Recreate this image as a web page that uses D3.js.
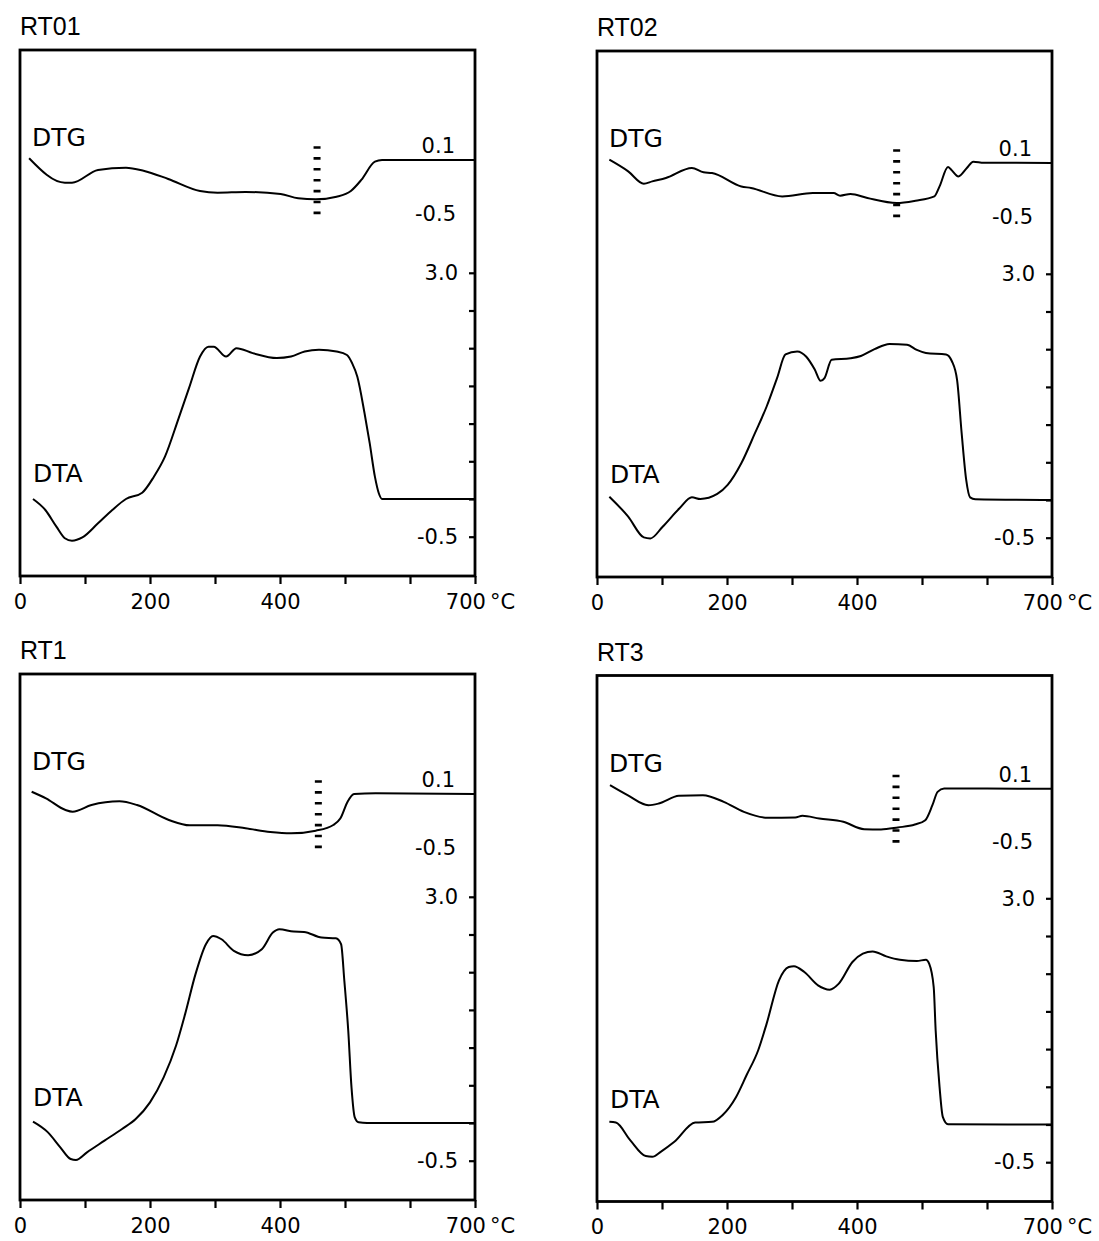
<!DOCTYPE html>
<html><head><meta charset="utf-8">
<script src="https://cdn.jsdelivr.net/npm/d3@7/dist/d3.min.js"></script>
<style>body{margin:0;background:#fff}</style>
</head><body>
<svg id="c" width="1099" height="1241"></svg>
<script>
// ---------- data ----------
const panelNames = ["RT01", "RT02", "RT1", "RT3"];
const xTicks = [0, 100, 200, 300, 400, 500, 600, 700];
const xTickLabels = {0: "0", 200: "200", 400: "400", 700: "700\u2009°C"};
const dtaTicks = [-0.5, 0, 0.5, 1.0, 1.5, 2.0, 2.5, 3.0];
const dtaTickLabels = {"3": "3.0", "-0.5": "-0.5"};
const dtgTickLabels = [0.1, -0.5];
const markerT = [457, 461, 459, 460];

const RT01_DTG = [[14,0.12],[69,-0.157],[80,-0.157],[120,-0.013],[163,0.013],[190,-0.021],[228,-0.115],[277,-0.251],[304,-0.27],[347,-0.262],[401,-0.285],[428,-0.334],[455,-0.345],[487,-0.315],[509,-0.251],[525,-0.126],[546,0.081],[557,0.1],[700,0.1]];
const RT01_DTA = [[20,0],[39,-0.146],[56,-0.367],[69,-0.52],[80,-0.553],[96,-0.51],[120,-0.323],[142,-0.146],[163,0],[188,0.084],[206,0.296],[223,0.562],[244,1.07],[260,1.47],[277,1.89],[290,2.02],[298,2.02],[317,1.89],[333,2.0],[358,1.935],[395,1.87],[417,1.89],[438,1.956],[460,1.98],[487,1.956],[503,1.91],[511,1.8],[519,1.62],[530,1.14],[538,0.74],[546,0.296],[552,0.076],[557,0],[700,0]];

const RT02_DTG = [[19,0.137],[48,0.005],[72,-0.134],[85,-0.108],[106,-0.07],[146,0.043],[164,-0.006],[177,-0.013],[222,-0.165],[237,-0.183],[285,-0.278],[332,-0.24],[364,-0.24],[374,-0.27],[390,-0.251],[416,-0.296],[461,-0.353],[490,-0.327],[519,-0.278],[527,-0.165],[540,0.055],[545,0.024],[556,-0.052],[569,0.043],[579,0.115],[595,0.103],[700,0.1]];
const RT02_DTA = [[19,0.044],[48,-0.22],[72,-0.496],[82,-0.51],[101,-0.354],[127,-0.11],[146,0.035],[159,0.013],[185,0.08],[201,0.2],[222,0.487],[243,0.886],[261,1.24],[277,1.616],[290,1.93],[308,1.97],[322,1.9],[335,1.73],[344,1.58],[350,1.616],[361,1.86],[390,1.88],[406,1.91],[427,2.0],[450,2.07],[477,2.06],[492,1.99],[506,1.95],[537,1.93],[546,1.84],[554,1.59],[561,0.886],[568,0.266],[574,0.035],[582,0.01],[700,0]];

const RT1_DTG = [[18,0.126],[40,0.051],[70,-0.081],[81,-0.1],[110,-0.025],[153,0.017],[180,-0.025],[229,-0.194],[261,-0.254],[304,-0.254],[347,-0.288],[385,-0.33],[417,-0.345],[455,-0.315],[482,-0.251],[493,-0.175],[504,0.013],[514,0.1],[547,0.108],[700,0.1]];
const RT1_DTA = [[20,0.018],[43,-0.124],[62,-0.322],[78,-0.477],[86,-0.49],[103,-0.389],[130,-0.234],[157,-0.079],[178,0.053],[200,0.274],[221,0.605],[240,1.024],[254,1.444],[270,1.974],[286,2.371],[297,2.48],[310,2.437],[329,2.283],[351,2.225],[372,2.305],[389,2.525],[399,2.57],[421,2.539],[437,2.534],[464,2.459],[486,2.45],[494,2.371],[499,1.885],[505,1.223],[510,0.472],[515,0.075],[521,0.009],[534,0],[700,0]];

const RT3_DTG = [[20,0.138],[47,0.025],[79,-0.089],[95,-0.07],[126,0.017],[163,0.025],[195,-0.051],[226,-0.164],[263,-0.232],[305,-0.228],[316,-0.209],[342,-0.24],[379,-0.277],[411,-0.361],[437,-0.364],[463,-0.341],[489,-0.308],[505,-0.259],[516,-0.089],[524,0.062],[534,0.1],[700,0.097]];
const RT3_DTA = [[19,0.035],[29,0.026],[51,-0.207],[75,-0.419],[85,-0.428],[98,-0.362],[119,-0.23],[151,0.026],[177,0.035],[193,0.124],[214,0.366],[230,0.653],[248,0.985],[261,1.338],[280,1.912],[295,2.088],[303,2.1],[319,2.022],[340,1.845],[358,1.788],[372,1.868],[393,2.155],[409,2.265],[424,2.296],[445,2.23],[466,2.185],[492,2.168],[506,2.185],[511,2.132],[518,1.823],[521,1.25],[527,0.499],[532,0.102],[540,0.004],[700,0]];

const dtgSeries = [RT01_DTG, RT02_DTG, RT1_DTG, RT3_DTG];
const dtaSeries = [RT01_DTA, RT02_DTA, RT1_DTA, RT3_DTA];

// ---------- layout ----------
const W = 455, H = 526;
const layout = [
  {left: 20, top: 50, dtgOff: 110},
  {left: 597, top: 51, dtgOff: 112},
  {left: 20, top: 674, dtgOff: 120},
  {left: 597, top: 675.5, dtgOff: 113}
];
const numFont = "'DejaVu Sans', Verdana, sans-serif";

const svg = d3.select("#c");

layout.forEach((p, i) => {
  const g = svg.append("g").attr("transform", `translate(${p.left},${p.top})`);
  const x = d3.scaleLinear().domain([0, 700]).range([0, W]);
  const yA = d3.scaleLinear().domain([0, 3]).range([449, 449 - 3 * 75.4]);
  const yG = d3.scaleLinear().domain([0.1, -0.5]).range([p.dtgOff, p.dtgOff + 53]);

  // title
  g.append("text").attr("x", 0).attr("y", -15)
    .attr("font-family", "'Liberation Sans', Arial, sans-serif").attr("font-size", 25)
    .text(panelNames[i]);

  // frame
  g.append("rect").attr("width", W).attr("height", H)
    .attr("fill", "none").attr("stroke", "#000").attr("stroke-width", 2.8);

  // x axis
  const xa = g.append("g").attr("transform", `translate(0,${H})`)
    .call(d3.axisBottom(x).tickValues(xTicks).tickSize(8).tickPadding(10)
      .tickFormat(d => xTickLabels[d] || ""));
  xa.select(".domain").remove();
  xa.selectAll("line").attr("stroke-width", 2.2);
  xa.selectAll("text").attr("font-family", numFont).attr("font-size", 21).attr("fill", "#000")
    .attr("dx", d => d === 700 ? 5 : 0);

  // right DTA axis (ticks inward)
  const ya = g.append("g").attr("transform", `translate(${W},0)`)
    .call(d3.axisLeft(yA).tickValues(dtaTicks).tickSize(6).tickPadding(11)
      .tickFormat(d => dtaTickLabels[String(d)] || ""));
  ya.select(".domain").remove();
  ya.selectAll("line").attr("stroke-width", 2.2);
  ya.selectAll("text").attr("font-family", numFont).attr("font-size", 21).attr("fill", "#000");

  // DTG value labels
  g.append("text").attr("x", W - 20).attr("y", yG(dtgTickLabels[0]) - 7)
    .attr("text-anchor", "end").attr("font-family", numFont).attr("font-size", 21)
    .text(dtgTickLabels[0].toFixed(1));
  g.append("text").attr("x", W - 19).attr("y", yG(dtgTickLabels[1])).attr("dy", "0.36em")
    .attr("text-anchor", "end").attr("font-family", numFont).attr("font-size", 21)
    .text(dtgTickLabels[1].toFixed(1));

  // series labels
  g.append("text").attr("x", 12).attr("y", 96)
    .attr("font-family", numFont).attr("font-size", 25).text("DTG");
  g.append("text").attr("x", 13).attr("y", 432)
    .attr("font-family", numFont).attr("font-size", 25).text("DTA");

  // dashed marker
  g.append("line")
    .attr("x1", x(markerT[i])).attr("x2", x(markerT[i]))
    .attr("y1", yG(0.1) - 13.8).attr("y2", yG(-0.5) + 1.4)
    .attr("stroke", "#000").attr("stroke-width", 7).attr("stroke-dasharray", "2.6 8.3");

  // curves
  const lineG = d3.line().x(d => x(d[0])).y(d => yG(d[1])).curve(d3.curveMonotoneX);
  const lineA = d3.line().x(d => x(d[0])).y(d => yA(d[1])).curve(d3.curveMonotoneX);
  g.append("path").datum(dtgSeries[i]).attr("d", lineG)
    .attr("fill", "none").attr("stroke", "#000").attr("stroke-width", 2);
  g.append("path").datum(dtaSeries[i]).attr("d", lineA)
    .attr("fill", "none").attr("stroke", "#000").attr("stroke-width", 2);
});
</script>
</body></html>
